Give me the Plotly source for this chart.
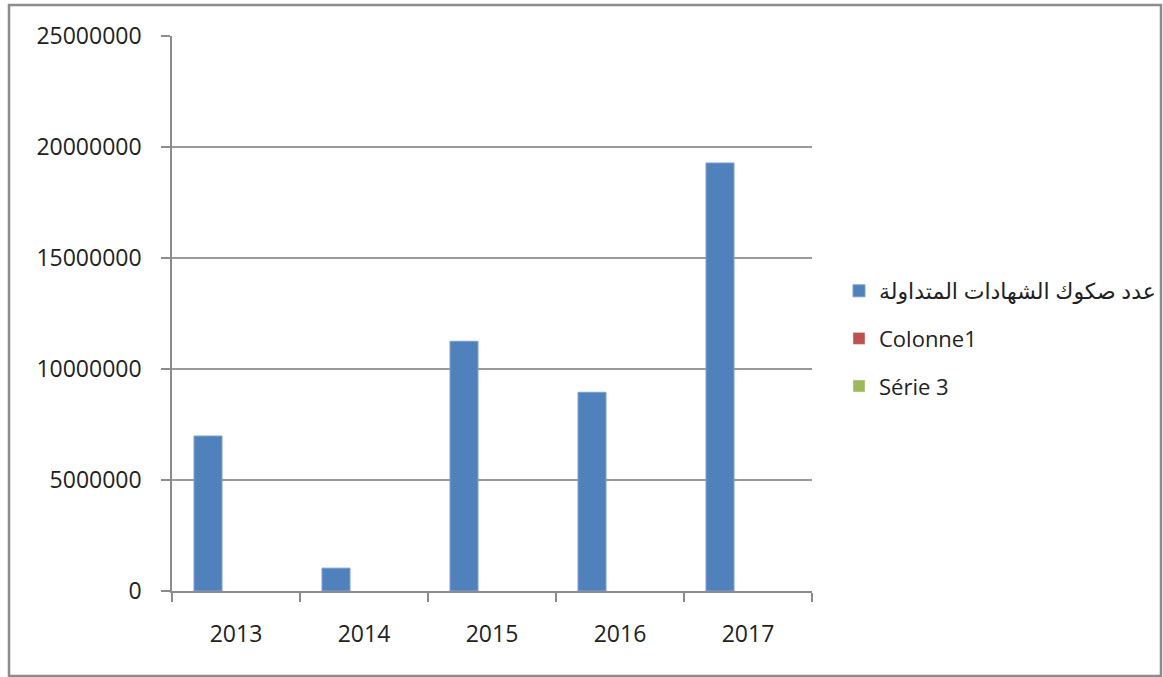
import plotly.graph_objects as go

years = ["2013", "2014", "2015", "2016", "2017"]
series1_name = "عدد صكوك الشهادات المتداولة"
series1 = [6980000, 1030000, 11250000, 8950000, 19280000]
series2_name = "Colonne1"
series2 = [None, None, None, None, None]
series3_name = "Série 3"
series3 = [None, None, None, None, None]
y_ticks = [0, 5000000, 10000000, 15000000, 20000000, 25000000]

W, H = 1163, 677
L, R, T, B = 172, 812, 36, 591

fig = go.Figure()
fig.add_trace(go.Bar(x=years, y=series1, name=series1_name, legendgroup="a",
                     marker=dict(color="#4f81bd", line=dict(color="#7ba0d0", width=1))))
fig.add_trace(go.Bar(x=years, y=series2, name=series2_name, legendgroup="b", marker=dict(color="#c0504d")))
fig.add_trace(go.Bar(x=years, y=series3, name=series3_name, legendgroup="c", marker=dict(color="#9bbb59")))

pw, ph = R - L, B - T
def px(x): return (x - L) / pw
def py(y): return (B - y) / ph

fig.update_layout(
    width=W, height=H,
    margin=dict(l=L, r=W - R, t=T, b=H - B, autoexpand=False),
    paper_bgcolor="white", plot_bgcolor="white",
    barmode="group", bargap=0.344, bargroupgap=0,
    font=dict(family="Open Sans, DejaVu Sans, sans-serif", size=23, color="#222"),
    showlegend=True,
    legend=dict(x=px(839), y=py(270), xanchor="left", yanchor="top",
                font=dict(size=22, family="Open Sans, DejaVu Sans, sans-serif"),
                tracegroupgap=16, bgcolor="rgba(0,0,0,0)"),
    xaxis=dict(showgrid=False, showline=True, linecolor="#8c8c8c", linewidth=1.5,
               ticks="outside", tickson="boundaries", ticklen=9, tickcolor="#8c8c8c",
               tickwidth=1.5, ticklabelstandoff=22, tickfont=dict(size=23)),
    yaxis=dict(range=[0, 25000000], tickvals=y_ticks, ticktext=[str(v) for v in y_ticks],
               showgrid=True, gridcolor="#9a9a9a", gridwidth=1.5,
               showline=True, linecolor="#8c8c8c", linewidth=1.5,
               ticks="outside", ticklen=9, tickcolor="#8c8c8c", tickwidth=1.5,
               ticklabelstandoff=15, tickfont=dict(size=23), zeroline=False),
    shapes=[dict(type="rect", xref="paper", yref="paper",
                 x0=px(9), x1=px(1161), y0=py(676), y1=py(5),
                 line=dict(color="#8c8c8c", width=2.5), fillcolor="rgba(0,0,0,0)", layer="below")],
)

fig.write_html("out.html")
